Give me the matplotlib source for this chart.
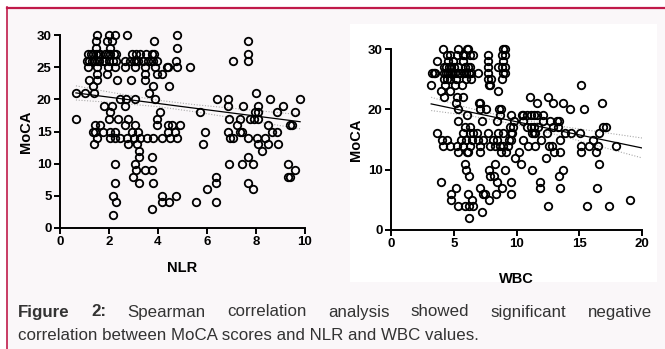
import matplotlib
matplotlib.use('Agg')
import matplotlib.pyplot as plt
from matplotlib.patches import Rectangle
from matplotlib.lines import Line2D

plt.rcParams['font.family'] = ['Liberation Sans', 'DejaVu Sans']

# ---- data ----
# left panel: NLR vs MoCA
nlr = [1.50, 2.00, 2.24, 2.72, 4.76,
       1.46, 1.93, 2.11, 3.84, 7.69,
       1.46, 2.05, 4.76,
       1.15, 1.25, 1.35, 1.45, 1.55, 1.65, 1.85, 1.95, 2.05, 2.20, 2.30, 2.95, 3.10, 3.25, 3.50, 3.75, 3.85, 7.69,
       1.10, 1.20, 1.30, 1.40, 1.50, 1.60, 1.75, 1.85, 2.00, 2.15, 2.30, 2.65, 2.85, 3.00, 3.10, 3.20, 3.40, 3.60, 3.70, 3.80, 3.95, 4.75, 7.07, 7.69,
       1.15, 1.50, 1.97, 2.24, 2.65, 3.06, 3.47, 3.88, 4.35, 4.42, 4.76, 5.31,
       1.50, 1.93, 3.47, 3.95, 4.15,
       1.20, 1.50, 2.31, 2.88, 3.47,
       1.36, 3.78, 4.45,
       0.65, 1.02, 1.40, 3.63, 7.99,
       2.45, 2.69, 3.06, 3.88, 6.42, 6.87, 8.57, 9.80,
       1.80, 2.11, 2.65, 6.87, 7.48, 8.10, 9.09,
       2.04, 4.08, 5.71, 7.96, 8.10, 8.84, 9.59,
       0.65, 2.01, 2.38, 2.76, 3.95, 6.91, 7.35, 7.76, 7.90, 8.10,
       1.43, 1.63, 2.65, 3.06, 3.95, 4.42, 4.56, 4.90, 7.21, 8.50, 9.39, 9.46,
       1.36, 1.43, 1.77, 2.04, 2.24, 2.93, 3.20, 4.42, 4.69, 5.92, 6.87, 7.35, 7.41, 8.64, 8.84,
       1.50, 2.04, 2.24, 2.45, 2.72, 3.00, 3.27, 3.54, 3.81, 4.15, 4.49, 4.76, 6.94, 7.07, 7.69, 8.03, 8.37,
       1.40, 2.78, 3.13, 5.85, 8.10, 8.50, 8.91,
       3.24, 8.23,
       3.24, 3.74, 7.69,
       2.24, 3.06, 6.91, 7.41, 7.89, 9.32,
       3.10, 3.47, 3.74, 9.59,
       2.99, 6.36, 9.32, 9.37,
       2.24, 3.24, 3.81, 6.36, 7.69,
       5.99, 7.89,
       2.15, 4.18, 4.72,
       2.29, 4.18, 4.45, 5.55, 6.36,
       3.74,
       2.18]
moca_nlr = ([30] * 5 + [29] * 5 + [28] * 3 + [27] * 18 + [26] * 24 + [25] * 12 + [24] * 5 + [23] * 5
            + [22] * 3 + [21] * 5 + [20] * 8 + [19] * 7 + [18] * 7 + [17] * 10 + [16] * 12 + [15] * 15
            + [14] * 17 + [13] * 7 + [12] * 2 + [11] * 3 + [10] * 6 + [9] * 4 + [8] * 4 + [7] * 5
            + [6] * 2 + [5] * 3 + [4] * 5 + [3] * 1 + [2] * 1)

# right panel: WBC vs MoCA
wbc = [4.16, 5.36, 6.02, 6.15, 8.94, 9.07,
       4.43, 4.69, 5.23, 5.76, 5.89, 6.29, 6.50, 7.75, 8.81, 9.07,
       3.69, 4.56, 4.96, 5.70, 7.75, 8.94,
       4.20, 4.40, 4.60, 4.80, 5.00, 5.30, 5.90, 6.10, 6.30, 7.75, 8.55, 8.85, 9.10,
       3.30, 3.40, 3.50, 4.20, 4.40, 4.55, 4.70, 4.90, 5.10, 5.30, 5.50, 5.80, 6.00, 6.20, 6.40, 6.90, 7.75, 8.94, 9.07,
       4.20, 4.50, 4.70, 5.20, 6.00, 6.40, 7.75, 8.00, 8.88,
       3.18, 4.30, 5.10, 5.62, 7.82, 7.88, 15.12,
       4.00, 4.70, 8.54,
       4.25, 5.23, 5.70, 11.10, 12.52,
       5.18, 6.99, 7.13, 11.67, 12.90, 13.71, 16.84,
       5.36, 7.08, 7.56, 8.62, 8.73, 14.30, 15.36,
       6.05, 8.67, 9.60, 10.45, 10.53, 10.80, 11.19, 11.38, 11.64, 12.12,
       5.31, 7.29, 8.41, 9.81, 10.53, 12.12, 12.65, 13.26, 13.40,
       5.89, 6.29, 9.47, 9.74, 10.80, 11.19, 11.38, 11.72, 12.92, 13.34, 16.90, 17.11,
       3.63, 5.70, 6.29, 6.56, 6.82, 7.75, 8.49, 8.89, 9.55, 9.68, 11.27, 11.38, 11.46, 12.47, 13.85, 14.38, 15.09, 16.58,
       4.03, 4.43, 5.57, 5.97, 6.42, 6.95, 7.35, 8.09, 8.41, 9.42, 9.60, 10.53, 11.99, 13.45, 16.10,
       4.16, 4.69, 5.23, 5.70, 6.29, 7.08, 7.88, 8.28, 8.67, 8.94, 9.34, 10.93, 11.51, 12.57, 12.79, 15.12, 15.78, 16.50, 17.90,
       5.36, 6.02, 6.15, 7.13, 8.73, 9.20, 10.19, 12.99, 13.45, 15.12, 16.37,
       9.87, 12.33,
       5.89, 8.28, 10.34, 16.55,
       5.97, 7.82, 9.07, 11.27, 13.71,
       6.23, 7.88, 8.22, 13.40,
       3.98, 8.41, 9.60, 11.91,
       5.18, 7.13, 8.81, 11.91, 13.45, 16.42,
       4.77, 6.15, 7.35, 7.48, 8.33, 9.60,
       4.77, 6.42, 7.82, 19.03,
       5.36, 5.89, 6.23, 6.56, 12.52, 15.65, 17.38,
       7.24,
       6.23]
moca_wbc = ([30] * 6 + [29] * 10 + [28] * 6 + [27] * 13 + [26] * 19 + [25] * 9 + [24] * 7 + [23] * 3
            + [22] * 5 + [21] * 7 + [20] * 7 + [19] * 10 + [18] * 9 + [17] * 12 + [16] * 18 + [15] * 15
            + [14] * 19 + [13] * 11 + [12] * 2 + [11] * 4 + [10] * 5 + [9] * 4 + [8] * 4 + [7] * 6
            + [6] * 6 + [5] * 4 + [4] * 7 + [3] * 1 + [2] * 1)

# regression lines and 95% bands as drawn
fit_nlr_x = [0.65, 2, 4, 5.5, 7.5, 9.8]
fit_nlr_y = [21.0, 20.34, 19.36, 18.62, 17.64, 16.52]
band_nlr_hi = [22.1, 21.14, 19.86, 19.17, 18.44, 17.62]
band_nlr_lo = [19.9, 19.54, 18.86, 18.07, 16.84, 15.42]

fit_wbc_x = [3.2, 6, 8, 11, 14, 17, 20]
fit_wbc_y = [20.9, 19.68, 18.81, 17.51, 16.2, 14.9, 13.6]
band_wbc_hi = [22.0, 20.33, 19.31, 18.06, 17.05, 16.15, 15.25]
band_wbc_lo = [19.8, 19.03, 18.31, 16.96, 15.35, 13.65, 11.95]

W, H = 665, 349
bg = '#faf7f9'
red = '#c01a4a'
txt = '#333333'

fig = plt.figure(figsize=(W / 100, H / 100), dpi=100, facecolor='white')

def fx(px):
    return px / W

def fy(py):
    return 1 - py / H

# page background + crimson frame
fig.patches.append(Rectangle((fx(7), 0), 1 - fx(7), fy(7), transform=fig.transFigure,
                             facecolor=bg, edgecolor='none', zorder=-2))
fig.add_artist(Line2D([fx(7), 1], [fy(7.5), fy(7.5)], color=red, lw=1.6, zorder=-1))
fig.add_artist(Line2D([fx(7), fx(7)], [0, fy(7)], color=red, lw=1.2, zorder=-1))
# white box behind right graph
fig.patches.append(Rectangle((fx(350), fy(282)), fx(657) - fx(350), fy(24) - fy(282),
                             transform=fig.transFigure, facecolor='white', edgecolor='none', zorder=-1))


def panel(rect, x, y, fx_, fy_, hi, lo, xlim, xticks, yticks, xlabel, xlab_y):
    ax = fig.add_axes(rect, zorder=2)
    ax.patch.set_alpha(0)
    ax.plot(x, y, 'o', ms=5.4, mfc='none', mec='black', mew=1.3, clip_on=False, zorder=3)
    ax.plot(fx_, fy_, color='black', lw=0.9, zorder=4)
    ax.plot(fx_, hi, color='#aaaaaa', lw=0.8, ls=(0, (1, 1.5)), zorder=2)
    ax.plot(fx_, lo, color='#aaaaaa', lw=0.8, ls=(0, (1, 1.5)), zorder=2)
    ax.set_xlim(*xlim)
    ax.set_ylim(0, 30)
    ax.set_xticks(xticks)
    ax.set_yticks(yticks)
    for s in ['top', 'right']:
        ax.spines[s].set_visible(False)
    for s in ['left', 'bottom']:
        ax.spines[s].set_linewidth(1.4)
    ax.tick_params(width=1.4, length=4, labelsize=9.5, pad=2)
    for lab in ax.get_xticklabels() + ax.get_yticklabels():
        lab.set_fontweight('bold')
    ax.set_xlabel(xlabel, fontsize=10.5, fontweight='bold')
    ax.set_ylabel('MoCA', fontsize=10.5, fontweight='bold')
    ax.xaxis.set_label_coords(0.5, xlab_y)
    ax.yaxis.set_label_coords(-0.11, 0.5)
    return ax


panel([fx(60), fy(228), fx(305) - fx(60), fy(35) - fy(228)], nlr, moca_nlr,
      fit_nlr_x, fit_nlr_y, band_nlr_hi, band_nlr_lo, (0, 10), [0, 2, 4, 6, 8, 10],
      [0, 5, 10, 15, 20, 25, 30], 'NLR', -0.17)
panel([fx(391), fy(230), fx(642) - fx(391), fy(49) - fy(230)], wbc, moca_wbc,
      fit_wbc_x, fit_wbc_y, band_wbc_hi, band_wbc_lo, (0, 20), [0, 5, 10, 15, 20],
      [0, 10, 20, 30], 'WBC', -0.232)

# caption, first line justified
words = [('Figure', 'bold'), ('2:', 'bold'), ('Spearman', 'normal'), ('correlation', 'normal'),
         ('analysis', 'normal'), ('showed', 'normal'), ('significant', 'normal'), ('negative', 'normal')]
x0, x1 = 18, 652
fs = 12.2
r = fig.canvas.get_renderer()
items = []
for w, wt in words:
    t = fig.text(0, fy(312), w, fontsize=fs, fontweight=wt, color=txt, va='center', ha='left')
    items.append((t, t.get_window_extent(renderer=r).width))
gap = (x1 - x0 - sum(wd for _, wd in items)) / (len(items) - 1)
pos = x0
for t, wd in items:
    t.set_x(fx(pos))
    pos += wd + gap
fig.text(fx(x0), fy(336), 'correlation between MoCA scores and NLR and WBC values.',
         fontsize=fs, color=txt, va='center', ha='left')

fig.savefig('out.png', dpi=100, facecolor=fig.get_facecolor())
